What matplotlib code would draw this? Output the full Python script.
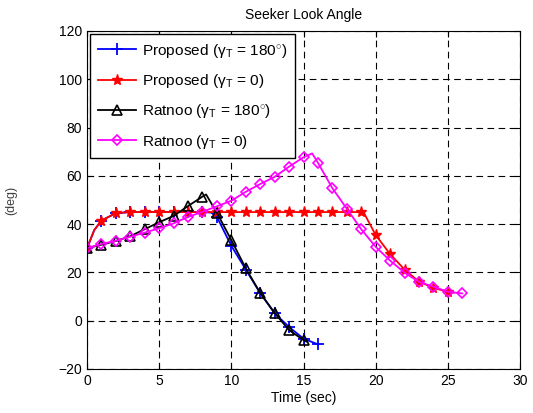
import numpy as np
import matplotlib.pyplot as plt

plt.rcParams['font.family'] = ['Liberation Sans', 'DejaVu Sans']
plt.rcParams['mathtext.fontset'] = 'custom'
plt.rcParams['mathtext.rm'] = 'Liberation Sans'
plt.rcParams['mathtext.it'] = 'Liberation Sans:italic'

# seeker look angle histories (deg) vs time (sec)
t_prop180 = [0, 0.5, 1, 2, 3, 4, 5, 6, 7, 8, 8.6, 9, 10, 11, 12, 13, 14, 15, 16]
a_prop180 = [30, 37.5, 41.5, 44.5, 45, 45, 45, 45, 45, 45, 44.8, 43, 31, 21.2,
             11.4, 3.1, -2.6, -7.4, -9.8]

t_prop0 = [0, 0.5, 1, 2, 3, 4, 5, 6, 7, 8, 9, 10, 11, 12, 13, 14, 15, 16, 17,
           18, 19, 19.2, 20, 21, 22, 23, 24, 25, 25.4]
a_prop0 = [30, 37.5, 41.5, 44.6, 45, 45, 45, 45, 45, 45, 45, 45, 45, 45, 45, 45,
           45, 45, 45, 45, 45, 44.5, 35.5, 27.6, 21.2, 16.2, 13.6, 12, 11.6]

t_rat180 = [0, 1, 2, 3, 4, 5, 6, 7, 8, 8.25, 9, 10, 11, 12, 13, 14, 15, 15.2]
a_rat180 = [30, 31.5, 33, 35, 37.9, 40.8, 43.4, 47.5, 51.4, 52.3, 44.7, 33.4,
            21.7, 11.5, 3.2, -3.9, -8, -8.6]

t_rat0 = [0, 1, 2, 3, 4, 5, 6, 7, 8, 9, 10, 11, 12, 13, 14, 15, 15.6, 16, 17,
          18, 19, 20, 21, 22, 23, 24, 25, 26]
a_rat0 = [30, 31.8, 33.1, 34.8, 36.5, 38.3, 40.3, 43, 45.1, 47.4, 49.7, 53.4,
          56.6, 59.6, 63.8, 67.7, 69.3, 65.4, 54.9, 46.4, 37.9, 30.6, 24.9,
          19.9, 16.1, 14.1, 12, 11.3]


def whole(t):
    # markers only on whole seconds
    return [i for i, v in enumerate(t) if float(v).is_integer()]


fig = plt.figure(figsize=(5.33, 4.13), dpi=100)
ax = fig.add_axes([87 / 533, 1 - 369 / 413, 433 / 533, 338 / 413])

ax.plot(t_prop180, a_prop180, color='b', lw=1.3, marker='+', ms=9, mew=1.3,
        markevery=whole(t_prop180), label='Proposed (γ$_\\mathrm{T}$ = 180$^{\\circ}$)')
ax.plot(t_prop0, a_prop0, color='r', lw=1.3, marker='*', ms=8, mew=1,
        markevery=whole(t_prop0), label='Proposed (γ$_\\mathrm{T}$ = 0)')
ax.plot(t_rat180, a_rat180, color='k', lw=1.3, marker='^', ms=7, mew=1.2,
        mfc='none', markevery=whole(t_rat180),
        label='Ratnoo (γ$_\\mathrm{T}$ = 180$^{\\circ}$)')
ax.plot(t_rat0, a_rat0, color='#ff00ff', lw=1.3, marker='D', ms=5, mew=1.2,
        mfc='none', markevery=whole(t_rat0), label='Ratnoo (γ$_\\mathrm{T}$ = 0)')

ax.set_xlim(0, 30)
ax.set_ylim(-20, 120)
ax.set_xticks(np.arange(0, 31, 5))
ax.set_yticks(np.arange(-20, 121, 20))
ax.tick_params(direction='in', labelsize=10, length=4, top=True, right=True)
ax.grid(True, color='k', lw=0.8, linestyle=(0, (6, 4)))

ax.set_title('Seeker Look Angle', fontsize=10, pad=9)
ax.set_xlabel('Time (sec)', fontsize=10, labelpad=2)
ax.set_ylabel('(deg)', fontsize=9, color='0.25')
ax.yaxis.set_label_coords(-0.162, 0.5)

leg = ax.legend(loc='upper left', fontsize=11.1, fancybox=False, framealpha=1,
                edgecolor='k', handlelength=2.5, handletextpad=0.35,
                borderaxespad=0.2, labelspacing=0.8, borderpad=0.5)
leg.get_frame().set_linewidth(1.0)

fig.savefig('out.png', dpi=100)
